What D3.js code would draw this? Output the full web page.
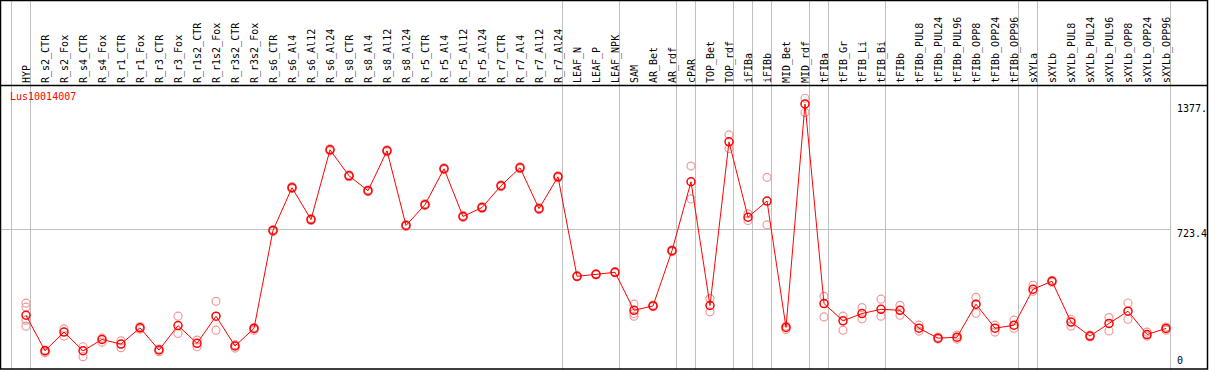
<!DOCTYPE html>
<html>
<head>
<meta charset="utf-8">
<script src="https://cdn.jsdelivr.net/npm/d3@7"></script>
<style>
  html, body { margin: 0; padding: 0; background: #fff; }
  svg { display: block; }
  text { font-family: "DejaVu Sans Mono", monospace; font-size: 10px; }
</style>
</head>
<body>
<div id="chart"></div>
<script>
const geneId = 'Lus10014007';

const samples = [
    'HYP', 'R_s2_CTR', 'R_s2_Fox', 'R_s4_CTR', 'R_s4_Fox', 'R_r1_CTR', 'R_r1_Fox',
    'R_r3_CTR', 'R_r3_Fox', 'R_r1s2_CTR', 'R_r1s2_Fox', 'R_r3s2_CTR', 'R_r3s2_Fox',
    'R_s6_CTR', 'R_s6_Al4', 'R_s6_Al12', 'R_s6_Al24', 'R_s8_CTR', 'R_s8_Al4', 'R_s8_Al12',
    'R_s8_Al24', 'R_r5_CTR', 'R_r5_Al4', 'R_r5_Al12', 'R_r5_Al24', 'R_r7_CTR', 'R_r7_Al4',
    'R_r7_Al12', 'R_r7_Al24', 'LEAF_N', 'LEAF_P', 'LEAF_NPK', 'SAM', 'AR_Bet', 'AR_rdf',
    'cPAR', 'TOP_Bet', 'TOP_rdf', 'iFIBa', 'iFIBb', 'MID_Bet', 'MID_rdf', 'tFIBa',
    'tFIB_Gr', 'tFIB_Li', 'tFIB_Bi', 'tFIBb', 'tFIBb_PUL8', 'tFIBb_PUL24', 'tFIBb_PUL96',
    'tFIBb_OPP8', 'tFIBb_OPP24', 'tFIBb_OPP96', 'sXYLa', 'sXYLb', 'sXYLb_PUL8',
    'sXYLb_PUL24', 'sXYLb_PUL96', 'sXYLb_OPP8', 'sXYLb_OPP24', 'sXYLb_OPP96'
];

// mean expression per sample
const means = [
    271, 85, 183, 85, 144, 120, 205, 89, 217, 124, 266, 110, 202,
    715, 939, 772, 1137, 1001, 923, 1132, 741, 850, 1038, 788, 835, 949, 1043, 829, 996,
    475, 485, 496, 297, 320, 609, 970, 322, 1179, 784, 869, 207, 1377, 332,
    242, 280, 302, 297, 203, 151, 156, 329, 203, 219, 407, 449, 235,
    162, 228, 292, 170, 202
];

// replicate values per sample
const replicates = [
    [334, 313, 245, 214], [88, 78, 74], [200, 162], [106, 54], [151, 130], [137, 101], [212, 198],
    [94, 80], [266, 176], [141, 106], [344, 193], [117, 99], [207, 193],
    [720, 710], [944, 934], [777, 767], [1142, 1132], [1006, 996], [928, 918], [1137, 1127],
    [746, 736], [855, 845], [1043, 1033], [793, 783], [840, 830], [954, 944], [1048, 1038],
    [834, 824], [1001, 991],
    [478, 472], [488, 482], [499, 493], [329, 280, 266], [324, 316], [614, 604],
    [1052, 880], [358, 289], [1215, 1144], [802, 767], [993, 744], [214, 196], [1407, 1333],
    [370, 262], [266, 193], [311, 252], [355, 266], [323, 271], [219, 188], [156, 146],
    [167, 146], [365, 282], [219, 183], [245, 203], [428, 396], [454, 444], [250, 214],
    [167, 157], [259, 189], [335, 250], [183, 162], [209, 193]
];

// index of the last sample of each group
const groupEnds = [-1, 0, 28, 31, 34, 35, 37, 38, 39, 41, 42, 45, 52, 53, 60];

const yTicks = [
    { value: 0, label: '0' },
    { value: 723.4, label: '723.4' },
    { value: 1377, label: '1377.' }
];
const gridValues = [723.4];

const width = 1209;
const height = 370;
const headerBottom = 85;

const svg = d3
    .select('#chart')
    .append('svg')
    .attr('width', width)
    .attr('height', height);

const x = d3.scalePoint().domain(samples).range([26, 1166]);
const xIndex = d3.scaleLinear().domain([0, samples.length - 1]).range([26, 1166]);
const y = d3.scaleLinear().domain([0, 1377]).range([367, 104]);

// group dividers
svg.append('g')
    .selectAll('line')
    .data(groupEnds)
    .enter()
    .append('line')
    .attr('x1', (d) => Math.round(xIndex(d) + 4) + 0.5)
    .attr('x2', (d) => Math.round(xIndex(d) + 4) + 0.5)
    .attr('y1', 0)
    .attr('y2', height)
    .attr('stroke', '#c0c0c0')
    .attr('stroke-width', 1);

// horizontal grid
svg.append('g')
    .selectAll('line')
    .data(gridValues)
    .enter()
    .append('line')
    .attr('x1', 1)
    .attr('x2', Math.round(xIndex(samples.length - 1) + 4) + 0.5)
    .attr('y1', (d) => Math.round(y(d)) + 0.5)
    .attr('y2', (d) => Math.round(y(d)) + 0.5)
    .attr('stroke', '#c0c0c0')
    .attr('stroke-width', 1);

// sample labels (vertical)
svg.append('g')
    .selectAll('text')
    .data(samples)
    .enter()
    .append('text')
    .attr('transform', (d) => `translate(${x(d) + 4},83) rotate(-90)`)
    .attr('fill', '#000')
    .text((d) => d);

// frame
svg.append('rect')
    .attr('x', 0.5)
    .attr('y', 0.5)
    .attr('width', 1207)
    .attr('height', 368.5)
    .attr('fill', 'none')
    .attr('stroke', '#000')
    .attr('stroke-width', 1.5);

svg.append('line')
    .attr('x1', 0)
    .attr('x2', 1208)
    .attr('y1', headerBottom + 0.5)
    .attr('y2', headerBottom + 0.5)
    .attr('stroke', '#000')
    .attr('stroke-width', 1.5);

// gene id
svg.append('text')
    .attr('x', 10)
    .attr('y', 100)
    .attr('fill', '#ff0000')
    .text(geneId);

// right value labels
svg.append('g')
    .selectAll('text')
    .data(yTicks)
    .enter()
    .append('text')
    .attr('x', 1177)
    .attr('y', (d) => (d.value === 0 ? y(d.value) - 3 : y(d.value) + 8))
    .attr('fill', '#000')
    .text((d) => d.label);

// replicate markers
const repPoints = [];
replicates.forEach((reps, i) => {
    reps.forEach((v) => repPoints.push({ sample: samples[i], value: v }));
});

svg.append('g')
    .selectAll('circle')
    .data(repPoints)
    .enter()
    .append('circle')
    .attr('cx', (d) => x(d.sample))
    .attr('cy', (d) => y(d.value))
    .attr('r', 4)
    .attr('fill', 'none')
    .attr('stroke', '#f09a9a')
    .attr('stroke-width', 1.2);

// mean line
const line = d3
    .line()
    .x((d, i) => x(samples[i]))
    .y((d) => y(d));

svg.append('path')
    .datum(means)
    .attr('d', line)
    .attr('fill', 'none')
    .attr('stroke', '#ff0000')
    .attr('stroke-width', 1);

// mean markers
svg.append('g')
    .selectAll('circle')
    .data(means)
    .enter()
    .append('circle')
    .attr('cx', (d, i) => x(samples[i]))
    .attr('cy', (d) => y(d))
    .attr('r', 4)
    .attr('fill', 'none')
    .attr('stroke', '#ff0000')
    .attr('stroke-width', 1.5);
</script>
</body>
</html>
